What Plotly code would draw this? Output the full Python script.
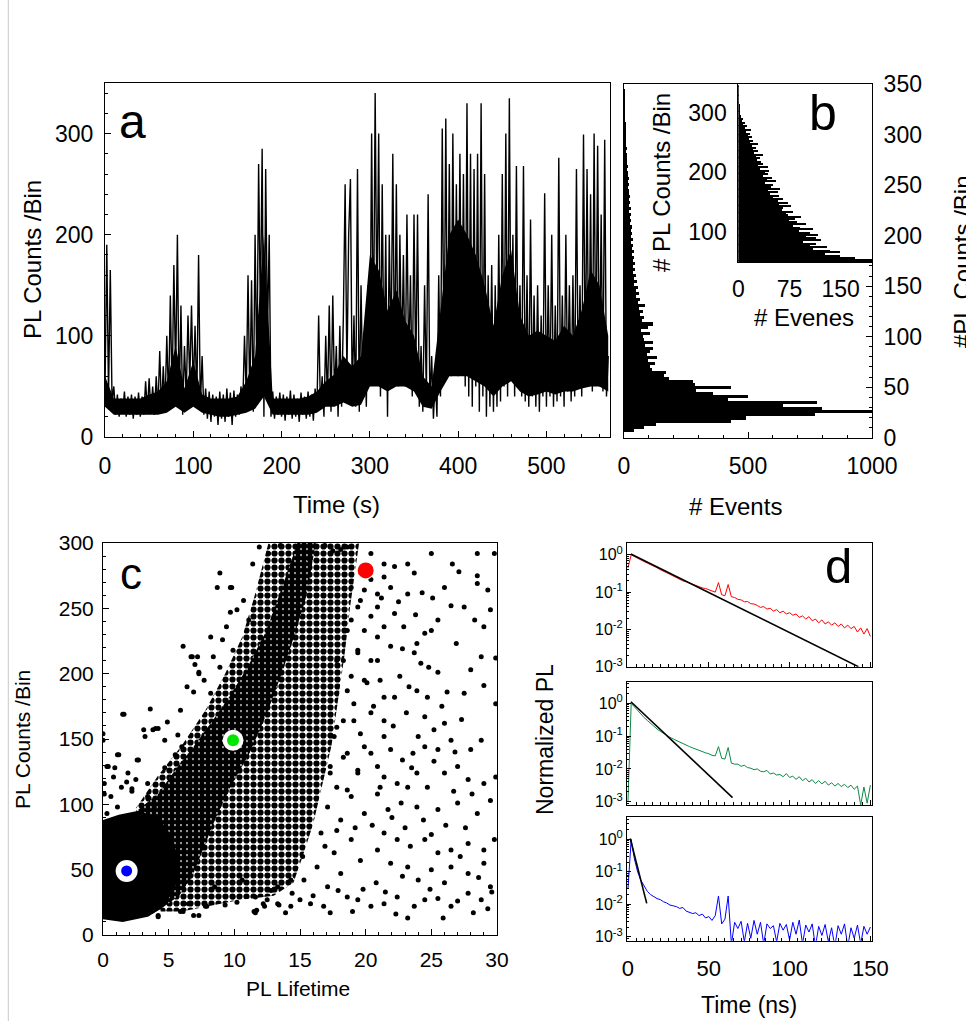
import plotly.graph_objects as go

FONT = "Arial, Liberation Sans, sans-serif"
W, H = 966, 1021

# ---------------- panel a : PL trace, one reading every 2 s ----------------
t_step = 2
pl_trace = [
    45, 190, 40, 165, 35, 50,
    22, 42, 20, 38, 24, 45, 20, 40, 22, 42, 18, 40, 22, 44, 20, 40, 22,
    55, 25, 58, 24, 50, 22, 60, 28, 85, 26, 70, 30,
    100, 35, 140, 40, 170, 60, 200, 30, 130, 22, 90, 40, 120, 55, 130, 45, 110, 35, 180, 30,
    80, 22, 48, 18, 45, 15, 42, 20, 40, 12, 45, 18, 42, 15, 48, 20, 44, 12, 46, 20, 42, 22, 50, 30,
    100, 40, 160, 35, 155, 25, 200, 60, 270, 120, 285, 20, 265, 100, 200, 20,
    45, 18, 40, 22, 44, 20, 42, 16, 40, 22, 46, 18, 42, 20, 38, 15, 44, 22, 40, 18, 45, 20, 42, 16, 48, 25,
    120, 30, 60, 20, 100, 35, 130, 25, 140, 40, 90, 20, 110, 30, 120, 250, 60, 200, 255, 40,
    120, 30, 265, 25, 150, 40, 100, 30, 150, 60,
    300, 80, 340, 120, 300, 40, 250, 60, 200, 20, 200, 80, 280, 60, 250, 50, 200, 70, 180, 50,
    220, 70, 160, 40, 220, 60, 220, 30, 90, 25, 150, 40, 240, 30, 80,
    18, 60, 20, 160, 40, 305, 60, 315, 70, 270, 60, 300, 80, 250, 60, 280, 70, 260, 50, 330,
    40, 280, 30, 265, 50, 280, 25, 330, 40, 260,
    20, 160, 30, 170, 25, 150, 30, 200, 35, 260, 50, 300, 40, 335, 60, 200, 40, 268, 50, 150,
    40, 268, 35, 160, 30,
    215, 40, 140, 30, 150, 25, 120, 40, 241, 30, 150, 40, 200, 30, 130, 35, 276, 40, 140, 30,
    200, 45, 150, 35, 160, 40, 265, 50, 150, 40, 299, 60, 265, 50, 240, 45, 300, 60, 288, 50,
    220, 45, 294, 40, 80,
]
# where the trace is so dense that it reads as solid black (every 10 s)
t_dense = list(range(0, 571, 10))
dense_hi = [
    60, 38, 38, 38, 38, 42, 45, 55, 90, 48,
    75, 42, 38, 38, 38, 40, 55, 80, 200, 38,
    38, 38, 38, 40, 45, 55, 62, 80, 70, 80,
    180, 165, 125, 145, 115, 100, 60, 50, 125, 200,
    215, 200, 180, 150, 110, 160, 185, 120, 100, 105,
    100, 95, 110, 100, 125, 165, 150, 100,
]
dense_lo = [
    30, 22, 22, 22, 22, 22, 22, 24, 30, 24,
    30, 24, 22, 20, 20, 22, 24, 28, 40, 22,
    22, 22, 22, 22, 24, 30, 30, 34, 30, 32,
    50, 50, 45, 50, 50, 45, 30, 28, 45, 60,
    60, 60, 55, 50, 40, 50, 55, 45, 40, 42,
    45, 42, 45, 45, 48, 50, 50, 45,
]

# ---------------- panel b : histograms ----------------
hist_start = 6
hist_width = 3
hist_counts = [
    40, 80, 130, 430, 490, 770, 1050, 800, 640, 780,
    420, 500, 360, 290, 430, 285, 280, 180, 160, 170,
    112, 105, 125, 97, 132, 91, 105, 118, 85, 118,
    80, 77, 105, 70, 95, 118, 72, 80, 65, 77,
    60, 84, 55, 65, 50, 62, 48, 55, 42, 52,
    41, 48, 38, 45, 36, 44, 35, 40, 33, 41,
    32, 37, 30, 36, 29, 34, 27, 32, 26, 30,
    25, 28, 22, 27, 21, 25, 20, 24, 19, 22,
    17, 21, 16, 19, 15, 17, 13, 16, 12, 14,
    11, 13, 10, 11, 8, 10, 7, 8, 6, 7,
    5, 5, 4, 4, 3, 3, 2, 2, 1, 1,
    1, 0.5, 0.5, 0,
]
inset_start = 48
inset_counts = [
    200, 196, 171, 150, 128, 150, 135, 110, 130, 105,
    115, 95, 122, 115, 100, 118, 105, 90, 110, 91,
    80, 100, 86, 75, 84, 92, 74, 71, 80, 64,
    66, 78, 60, 74, 58, 66, 52, 60, 47, 58,
    44, 62, 48, 52, 40, 55, 42, 50, 36, 44,
    39, 45, 32, 44, 30, 37, 34, 28, 32, 26,
    37, 24, 30, 22, 27, 20, 30, 18, 22, 16,
    20, 14, 17, 12, 19, 10, 13, 8, 10, 6,
    7, 5, 5, 3, 3, 2, 2, 1.5, 1.5, 1,
    1, 1, 0.8, 0.5, 0.5, 0.5, 0.3, 0.3, 0.2, 0.1,
]

# ---------------- panel c : lifetime vs counts ----------------
# outlines of the saturated core, the dense band and the looser cloud around it
core_region = [(0, 12), (1.5, 10), (3.4, 14), (4.4, 20), (5.5, 35), (5.8, 55), (5.3, 75), (4.2, 90),
               (2.7, 95), (1.2, 92), (0, 88)]
band_region = [(3.4, 14), (4.4, 20), (5.8, 30), (6.8, 45), (7.6, 65), (8.6, 90), (9.8, 115),
               (11.2, 140), (12.5, 170), (13.6, 200), (14.6, 230), (15.5, 260), (16.2, 300),
               (14.8, 300), (13.6, 265), (12.4, 232), (11, 205), (9.6, 182), (8.2, 162),
               (6.8, 143), (5.4, 125), (4.2, 108), (2.7, 96)]
loose_region = [(2.5, 97), (4.2, 122), (6, 145), (7.8, 172), (9.3, 200), (10.6, 228), (11.5, 258),
                (12.2, 285), (12.6, 300), (19.5, 300), (19.2, 280), (18.8, 250), (18.4, 215),
                (17.9, 180), (17.4, 145), (16.7, 115), (16, 85), (15.2, 60), (14.5, 40), (13, 30),
                (10.5, 27), (8, 22), (6, 18), (4.4, 18)]
c_points = [
    (8.9, 277), (8.7, 266), (9.7, 266), (9.7, 247), (8.2, 228), (6.1, 221), (6.8, 213), (7.3, 200),
    (6.4, 190), (3.6, 173), (1.6, 169), (3.1, 157), (4.0, 158), (0.0, 154), (1.2, 138), (2.6, 134),
    (0.3, 129), (0.8, 121), (1.8, 117), (2.2, 112), (0.1, 108), (5.9, 172), (4.9, 163), (5.7, 153),
    (4.7, 149), (9.8, 266), (11.4, 284), (11.9, 297), (10.7, 256), (10.2, 249), (11.1, 241),
    (9.4, 236), (9.1, 226), (9.9, 218), (7.2, 213), (8.4, 213), (7.0, 207), (8.9, 205), (7.7, 195),
    (6.9, 186), (8.2, 185),
    (18.1, 295), (18.6, 297), (20.4, 292), (21.4, 274), (20.9, 261), (19.9, 264), (19.4, 251),
    (20.4, 244), (21.4, 236), (18.6, 233), (19.4, 218), (17.8, 210), (20.9, 210), (19.9, 195),
    (18.6, 187), (21.4, 182), (20.4, 170), (19.1, 164), (17.8, 159), (21.4, 152), (19.9, 144),
    (18.3, 136), (20.9, 129), (19.4, 124), (17.3, 124), (21.1, 113), (18.6, 111),
    (18.9, 266), (19.6, 256), (20.4, 272), (21.4, 284), (22.2, 282), (23.2, 284), (23.7, 277),
    (21.9, 266), (23.2, 261), (20.9, 251), (22.2, 246), (19.9, 233), (18.9, 241), (20.9, 228),
    (21.9, 221), (19.4, 216), (20.4, 210), (18.3, 210), (18.9, 198), (20.1, 193), (21.1, 195),
    (17.8, 185), (19.1, 177), (20.6, 175), (21.4, 164), (18.3, 164), (19.6, 154), (17.6, 152),
    (20.4, 139), (18.6, 139), (17.3, 129), (19.4, 126), (17.8, 113), (18.9, 106), (17.1, 98),
    (19.9, 93), (18.1, 88), (16.6, 78), (18.9, 73), (17.6, 63), (19.6, 57), (16.3, 52), (18.1, 47),
    (15.3, 42), (17.1, 37), (14.3, 42), (13.3, 37),
    (25.0, 292), (26.6, 284), (27.1, 278), (28.5, 292), (29.8, 292), (28.5, 275), (28.5, 269),
    (29.3, 264), (26.0, 266), (25.1, 258), (26.5, 252), (27.5, 251), (29.5, 249), (29.0, 236),
    (28.3, 241), (25.5, 241), (24.5, 231), (25.0, 233), (23.9, 223), (23.7, 216), (22.8, 219),
    (26.9, 223), (28.8, 213), (29.9, 212), (28.0, 203), (25.5, 201), (24.8, 205), (26.2, 186),
    (27.5, 185), (29.0, 191), (29.9, 177), (23.9, 187), (23.3, 190), (22.2, 182), (24.5, 167),
    (26.0, 162), (27.3, 165), (28.8, 149), (28.0, 142), (26.5, 149), (25.5, 142), (24.5, 144),
    (23.6, 139), (22.8, 134), (21.9, 142), (29.9, 121), (29.0, 116), (27.8, 119), (27.0, 129),
    (26.0, 124), (24.7, 113), (23.9, 124), (23.2, 113), (22.4, 116), (21.4, 121), (20.9, 108),
    (22.7, 101), (23.9, 98), (25.5, 96), (27.0, 101), (28.5, 93), (29.5, 103), (29.8, 73),
    (29.0, 65), (27.8, 70), (26.5, 65), (25.5, 63), (24.5, 73), (23.4, 68), (22.4, 73), (21.4, 78),
    (20.9, 65), (21.9, 55), (23.2, 52), (25.0, 50), (26.5, 52), (27.8, 47), (29.0, 55), (29.5, 37),
    (28.8, 27), (29.3, 20), (27.8, 32), (26.5, 22), (25.5, 28), (24.5, 27), (23.2, 13), (23.7, 22),
    (22.4, 29), (21.4, 24), (20.4, 22), (19.4, 27), (18.6, 29), (17.3, 17), (16.8, 22), (15.8, 24),
    (15.0, 27), (14.3, 22), (13.3, 24), (12.2, 24), (11.7, 19),
    (9.9, 29), (11.5, 18), (7.9, 22), (6.9, 15), (5.9, 18), (4.2, 15), (12.5, 27), (4.2, 14),
    (6.1, 18), (7.3, 15), (6.5, 24), (7.8, 22), (9.3, 23), (10.2, 25), (11.6, 17), (12.3, 22),
    (13.4, 23), (13.9, 17), (8.5, 37), (10.6, 42), (11.6, 29), (12.8, 34), (14.4, 32),
    (6.7, 213), (7.3, 201), (1.5, 169), (3.8, 157), (4.2, 158), (3.2, 152), (0.0, 149), (1.1, 138),
    (2.7, 134), (0.4, 129), (0.9, 128), (1.9, 124), (2.5, 119), (0.1, 116), (1.4, 113), (2.2, 110),
    (3.4, 116), (4.7, 128), (5.5, 138), (6.0, 144), (0.6, 106), (1.1, 98), (0.3, 93), (3.4, 106),
    (3.9, 98),
    (22.5, 255), (23.8, 245), (24.3, 262), (21.2, 258), (22.9, 236), (24.2, 208), (22.6, 198),
    (25.8, 175), (24.7, 182), (23.1, 170), (22.1, 160), (24.0, 152), (25.2, 157), (26.8, 140),
    (23.5, 128), (25.2, 133), (26.7, 110), (28.1, 108), (24.4, 88), (26.1, 84), (27.6, 82),
    (22.0, 90), (20.5, 84), (21.7, 96), (23.0, 82), (25.0, 77), (27.2, 60), (28.6, 44), (26.0, 40),
    (24.0, 42), (22.8, 45), (20.8, 40), (19.8, 35), (21.5, 33), (24.9, 35), (27.0, 26), (29.6, 33),
    (28.2, 17), (25.9, 13), (22.3, 16), (19.0, 18), (17.9, 34), (16.0, 30), (15.2, 60), (16.9, 68),
    (17.8, 80), (19.2, 82), (13.5, 298), (14.8, 296), (16.9, 298), (17.5, 294), (12.6, 292),
    (15.7, 288),
]
pick_x = [1.8, 9.9, 20.0]
pick_y = [49, 149, 279]
pick_colors = ["#0000ff", "#00e600", "#ff0000"]

# ---------------- panel d : decays, one reading every 2 ns ----------------
t_ns = list(range(0, 151, 2))
red_decay = [
    0.45, 1.0, 0.9, 0.8, 0.74, 0.66, 0.6, 0.55, 0.48, 0.45,
    0.4, 0.37, 0.33, 0.3, 0.27, 0.25, 0.23, 0.2, 0.19, 0.175,
    0.16, 0.15, 0.14, 0.13, 0.125, 0.115, 0.105, 0.1, 0.18, 0.085,
    0.08, 0.16, 0.075, 0.072, 0.064, 0.062, 0.055, 0.056, 0.049, 0.048,
    0.044, 0.039, 0.041, 0.035, 0.037, 0.031, 0.034, 0.028, 0.031, 0.026,
    0.028, 0.024, 0.026, 0.021, 0.023, 0.019, 0.022, 0.017, 0.019, 0.015,
    0.018, 0.014, 0.016, 0.013, 0.015, 0.012, 0.014, 0.011, 0.013, 0.0105,
    0.012, 0.0085, 0.011, 0.0075, 0.0105, 0.0065,
]
green_decay = [
    0.001, 1.0, 0.78, 0.6, 0.47, 0.37, 0.3, 0.24, 0.2, 0.165,
    0.14, 0.12, 0.105, 0.092, 0.082, 0.073, 0.066, 0.058, 0.053, 0.048,
    0.044, 0.04, 0.036, 0.033, 0.031, 0.029, 0.026, 0.025, 0.048, 0.021,
    0.02, 0.045, 0.015, 0.014, 0.014, 0.012, 0.013, 0.011, 0.0105, 0.0095,
    0.01, 0.0085, 0.0082, 0.009, 0.007, 0.0075, 0.0065, 0.0068, 0.0058, 0.0072,
    0.0055, 0.006, 0.0048, 0.0058, 0.0044, 0.0052, 0.004, 0.0047, 0.0036, 0.0044,
    0.0035, 0.0042, 0.0032, 0.0038, 0.003, 0.0036, 0.0029, 0.0034, 0.0027, 0.0032,
    0.0024, 0.003, 0.0008, 0.0028, 0.0009, 0.0032,
]
blue_decay = [
    0.03, 1.0, 0.25, 0.1, 0.055, 0.035, 0.025, 0.02, 0.017, 0.015,
    0.014, 0.012, 0.011, 0.0095, 0.009, 0.0085, 0.0075, 0.008, 0.0062, 0.0058,
    0.0052, 0.0055, 0.0045, 0.005, 0.0038, 0.0042, 0.0032, 0.0045, 0.018, 0.0025,
    0.0035, 0.018, 0.0006, 0.0028, 0.0018, 0.003, 0.0007, 0.0026, 0.0009, 0.0032,
    0.0012, 0.0028, 0.0006, 0.0025, 0.0018, 0.0022, 0.0007, 0.0026, 0.0016, 0.0024,
    0.0008, 0.0028, 0.0012, 0.0033, 0.0006, 0.0023, 0.0014, 0.0025, 0.0005, 0.0021,
    0.0011, 0.0024, 0.0007, 0.0019, 0.0005, 0.0022, 0.0012, 0.0025, 0.0005, 0.0019,
    0.0009, 0.0023, 0.0006, 0.0021, 0.0012, 0.002,
]
red_fit_t, red_fit_y = [1.8, 142.6], [1.05, 0.001]
green_fit_t, green_fit_y = [1.8, 64.7], [1.12, 0.00134]
blue_fit_t, blue_fit_y = [1.4, 11.6], [1.07, 0.0107]

log_vals = [1, 0.1, 0.01, 0.001]
log_text = ["10<sup>0</sup>", "10<sup>-1</sup>", "10<sup>-2</sup>", "10<sup>-3</sup>"]


def dx(a, b):
    return [a / W, b / W]


def dy(top, bottom):
    return [1 - bottom / H, 1 - top / H]


def box(size, **kw):
    d = dict(showline=True, linecolor="black", linewidth=1, mirror=True, showgrid=False,
             zeroline=False, ticks="inside", tickcolor="black", ticklen=6, automargin=False,
             tickfont=dict(family=FONT, size=size, color="black"))
    d.update(kw)
    return d


def minor(step, length=3):
    return dict(ticks="inside", dtick=step, ticklen=length, tickcolor="black", showgrid=False)


def region(poly, **style):
    return go.Scatter(x=[p[0] for p in poly], y=[p[1] for p in poly], mode="lines", fill="toself",
                      line=dict(width=0), xaxis="x4", yaxis="y4", hoverinfo="skip", **style)


def dots(size, solidity):
    return dict(shape=".", fgcolor="black", fgopacity=1, bgcolor="white", fillmode="replace",
                size=size, solidity=solidity)


fig = go.Figure()

# a
fig.add_trace(go.Scatter(x=t_dense + t_dense[::-1], y=dense_hi + dense_lo[::-1], mode="lines",
                         fill="toself", fillcolor="black", line=dict(width=0), xaxis="x", yaxis="y"))
fig.add_trace(go.Scatter(x=[i * t_step for i in range(len(pl_trace))], y=pl_trace, mode="lines",
                         line=dict(color="black", width=1.4), xaxis="x", yaxis="y"))

# b
fig.add_trace(go.Bar(y=[hist_start + hist_width * (i + 0.5) for i in range(len(hist_counts))],
                     x=hist_counts, orientation="h", width=hist_width, marker_color="black",
                     marker_line_width=0, xaxis="x2", yaxis="y2"))
fig.add_trace(go.Bar(y=[inset_start + hist_width * (i + 0.5) for i in range(len(inset_counts))],
                     x=inset_counts, orientation="h", width=hist_width * 0.8, marker_color="black",
                     marker_line_width=0, xaxis="x3", yaxis="y3"))

# c
fig.add_trace(region(loose_region, fillcolor="white", fillpattern=dots(7, 0.62)))
fig.add_trace(region(band_region, fillcolor="white", fillpattern=dots(6, 0.85)))
fig.add_trace(region(core_region, fillcolor="black"))
fig.add_trace(go.Scatter(x=[p[0] for p in c_points], y=[p[1] for p in c_points], mode="markers",
                         marker=dict(size=5, color="black", opacity=1), xaxis="x4", yaxis="y4"))
fig.add_trace(go.Scatter(x=pick_x, y=pick_y, mode="markers",
                         marker=dict(size=[22, 21, 18], color="white", opacity=1, line=dict(width=0)),
                         xaxis="x4", yaxis="y4"))
fig.add_trace(go.Scatter(x=pick_x, y=pick_y, mode="markers",
                         marker=dict(size=[11, 12, 16], color=pick_colors, opacity=1, line=dict(width=0)),
                         xaxis="x4", yaxis="y4"))

# d
for k, (dec, col, ft, fy) in enumerate([(red_decay, "#ff0000", red_fit_t, red_fit_y),
                                       (green_decay, "#0b8a45", green_fit_t, green_fit_y),
                                       (blue_decay, "#0000ff", blue_fit_t, blue_fit_y)]):
    xa, ya = "x%d" % (5 + k), "y%d" % (5 + k)
    fig.add_trace(go.Scatter(x=t_ns, y=dec, mode="lines", line=dict(color=col, width=1),
                             xaxis=xa, yaxis=ya))
    fig.add_trace(go.Scatter(x=ft, y=fy, mode="lines", line=dict(color="black", width=1.6),
                             xaxis=xa, yaxis=ya))

layout = dict(
    width=W, height=H, margin=dict(l=0, r=0, t=0, b=0, autoexpand=False), showlegend=False,
    paper_bgcolor="white", plot_bgcolor="white", bargap=0,
    xaxis=box(23, domain=dx(105, 610), anchor="y", range=[0, 572], dtick=100,
              minor=minor(20), ticklabelstandoff=8),
    yaxis=box(23, domain=dy(83, 437), anchor="x", range=[0, 350], dtick=100,
              minor=minor(20), ticklabelstandoff=6),
    xaxis2=box(23, domain=dx(624, 872), anchor="y2", range=[0, 1000], dtick=500,
               minor=minor(100), ticklabelstandoff=8),
    yaxis2=box(23, domain=dy(84, 437.7), anchor="x2", side="right", range=[0, 350], dtick=50,
               minor=minor(10), ticklabelstandoff=6),
    xaxis3=box(23, domain=dx(738.3, 872), anchor="y3", range=[0, 196], tickvals=[0, 75, 150],
               ticks="", ticklabelstandoff=6),
    yaxis3=box(23, domain=dy(84.3, 262.3), anchor="x3", range=[48, 349], tickvals=[100, 200, 300],
               ticks="", ticklabelstandoff=6),
    xaxis4=box(21, domain=dx(103, 497), anchor="y4", range=[0, 30], dtick=5,
               minor=minor(1), ticklabelstandoff=6),
    yaxis4=box(21, domain=dy(543, 935), anchor="x4", range=[0, 300], dtick=50,
               minor=minor(10), ticklabelstandoff=4),
)
for k, (top, bot, lo, hi) in enumerate([(543.3, 666.7, -3, 0.31), (681.7, 805, -3.1, 0.66),
                                        (816.7, 940.7, -3.12, 0.7)]):
    layout["xaxis%d" % (5 + k)] = box(22, domain=dx(627, 872), anchor="y%d" % (5 + k),
                                      range=[-0.6, 151], dtick=50, ticklen=5, minor=minor(5),
                                      showticklabels=(k == 2), ticklabelstandoff=8)
    layout["yaxis%d" % (5 + k)] = box(16, domain=dy(top, bot), anchor="x%d" % (5 + k), type="log",
                                      range=[lo, hi], tickvals=log_vals, ticktext=log_text, ticklen=4,
                                      minor=dict(ticks="inside", ticklen=2, tickcolor="black",
                                                 dtick="D1"))
fig.update_layout(**layout)


def label(text, x, y, size, angle=0, family=FONT):
    fig.add_annotation(text=text, x=x / W, y=1 - y / H, xref="paper", yref="paper",
                       showarrow=False, textangle=angle, xanchor="center", yanchor="middle",
                       font=dict(family=family, size=size, color="black"))


label("a", 132, 122, 48)
label("b", 823, 113, 50)
label("c", 131, 573, 44)
label("d", 838, 566, 49)
label("PL Counts /Bin", 32, 260, 24, -90)
label("Time (s)", 336, 504, 24)
label("# Events", 735, 506, 24)
label("# PL Counts /Bin", 662, 183, 24, -90)
label("# Evenes", 804, 317, 24)
label("#PL Counts /Bin", 962, 262, 24, -90)
label("PL Counts /Bin", 22, 740, 21, -90)
label("PL Lifetime", 298, 988, 21)
label("Normalized PL", 545, 740, 23, -90)
label("Time (ns)", 749, 1005, 23)

fig.add_shape(type="line", xref="paper", yref="paper", x0=8.3 / W, x1=8.3 / W, y0=0, y1=1,
              line=dict(color="#c8c8c8", width=1))

fig.write_html("out.html", config={"responsive": False, "displayModeBar": False},
               post_script="document.body.style.margin = '0px';")
